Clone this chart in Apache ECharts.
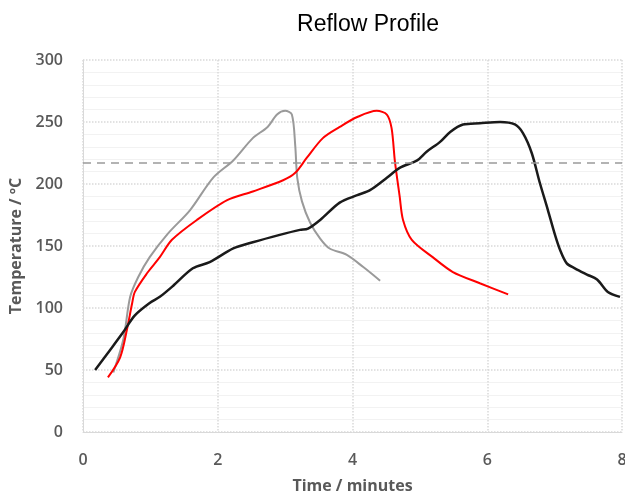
<!DOCTYPE html>
<html>
<head>
<meta charset="utf-8">
<script src="https://cdn.jsdelivr.net/npm/echarts@6/dist/echarts.min.js"></script>
<style>
  html, body { margin: 0; padding: 0; background: #fff; }
  #chart { width: 625px; height: 496px; }
</style>
</head>
<body>
<div id="chart"></div>
<script>
// time in minutes, temperature in degC
var grayTime = [0.45, 0.6, 0.7, 0.82, 0.99, 1.26, 1.59, 1.93, 2.23, 2.52, 2.74, 2.88, 3.0, 3.1, 3.15, 3.18, 3.25, 3.37, 3.52, 3.66, 3.91, 4.16, 4.41];
var grayTemp = [48, 75, 109, 125, 141, 160, 179, 205, 219, 237, 246, 256, 259, 256, 231, 205, 186, 169, 156, 148, 143, 133, 122];

var redTime = [0.37, 0.55, 0.65, 0.73, 0.77, 0.95, 1.14, 1.32, 1.69, 2.14, 2.52, 2.97, 3.15, 3.32, 3.56, 3.81, 4.07, 4.36, 4.51, 4.58, 4.63, 4.7, 4.75, 4.88, 5.19, 5.49, 5.89, 6.31];
var redTemp = [44, 60, 82, 104, 113, 128, 141, 155, 171, 187, 194, 203, 209, 221, 237, 246, 254, 259, 256, 245, 218, 190, 171, 155, 141, 129, 120, 111];

var blackTime = [0.18, 0.4, 0.59, 0.77, 0.99, 1.14, 1.34, 1.63, 1.88, 2.23, 2.52, 2.92, 3.22, 3.34, 3.52, 3.81, 4.07, 4.26, 4.51, 4.7, 4.96, 5.1, 5.3, 5.45, 5.64, 5.89, 6.19, 6.41, 6.53, 6.66, 6.78, 6.9, 7.0, 7.08, 7.18, 7.3, 7.48, 7.63, 7.79, 7.97];
var blackTemp = [50, 66, 80, 94, 104, 109, 118, 132, 137, 148, 153, 159, 163, 164, 171, 185, 191, 195, 205, 213, 219, 226, 234, 242, 248, 249, 250, 248, 241, 225, 201, 179, 160, 147, 136, 132, 127, 123, 113, 109];

var liquidus = 217;

function pairs(xs, ys) {
  return xs.map(function (x, i) { return [x, ys[i]]; });
}

var axisFont = { color: '#595959', fontSize: 16, fontWeight: 600, fontFamily: 'Open Sans' };
var nameFont = { color: '#595959', fontSize: 16, fontWeight: 'bold', fontFamily: 'Open Sans' };

var chart = echarts.init(document.getElementById('chart'));
chart.setOption({
  animation: false,
  title: {
    text: 'Reflow Profile',
    left: 363, top: 8, textAlign: 'center',
    textStyle: { fontFamily: 'Liberation Sans', fontWeight: 'normal', fontSize: 23, color: '#000' }
  },
  grid: { left: 83, right: 3, top: 60, bottom: 64, outerBoundsMode: 'none', containLabel: false },
  xAxis: {
    type: 'value', min: 0, max: 8, interval: 2,
    name: 'Time / minutes', nameLocation: 'middle', nameGap: 46,
    nameTextStyle: nameFont,
    axisLine: { lineStyle: { color: '#d9d9d9' } },
    axisTick: { show: false },
    axisLabel: Object.assign({ margin: 20 }, axisFont),
    splitLine: { show: true, lineStyle: { color: '#d9d9d9', type: 'dotted', width: 1.5 } }
  },
  yAxis: {
    type: 'value', min: 0, max: 300, interval: 50,
    name: 'Temperature / ºC', nameLocation: 'middle', nameGap: 57,
    nameTextStyle: nameFont,
    axisLine: { show: true, lineStyle: { color: '#d9d9d9' } },
    axisTick: { show: false },
    axisLabel: Object.assign({ margin: 20 }, axisFont),
    splitLine: { show: true, lineStyle: { color: '#d9d9d9', type: 'dotted', width: 1.5 } },
    minorTick: { show: false, splitNumber: 5 },
    minorSplitLine: { show: true, lineStyle: { color: '#f2f2f2', width: 1 } }
  },
  series: [
    {
      type: 'line', data: pairs(grayTime, grayTemp), smooth: 0.3, showSymbol: false,
      lineStyle: { color: '#9a9a9a', width: 2 }, z: 2
    },
    {
      type: 'line', data: pairs(redTime, redTemp), smooth: 0.3, showSymbol: false,
      lineStyle: { color: '#ff0000', width: 2 }, z: 3
    },
    {
      type: 'line', data: pairs(blackTime, blackTemp), smooth: 0.3, showSymbol: false,
      lineStyle: { color: '#1a1a1a', width: 2.5 }, z: 4,
      markLine: {
        silent: true, symbol: 'none', label: { show: false },
        lineStyle: { color: '#9a9a9a', type: [8, 6], width: 1.5 },
        data: [{ yAxis: liquidus }]
      }
    }
  ]
});
</script>
</body>
</html>
